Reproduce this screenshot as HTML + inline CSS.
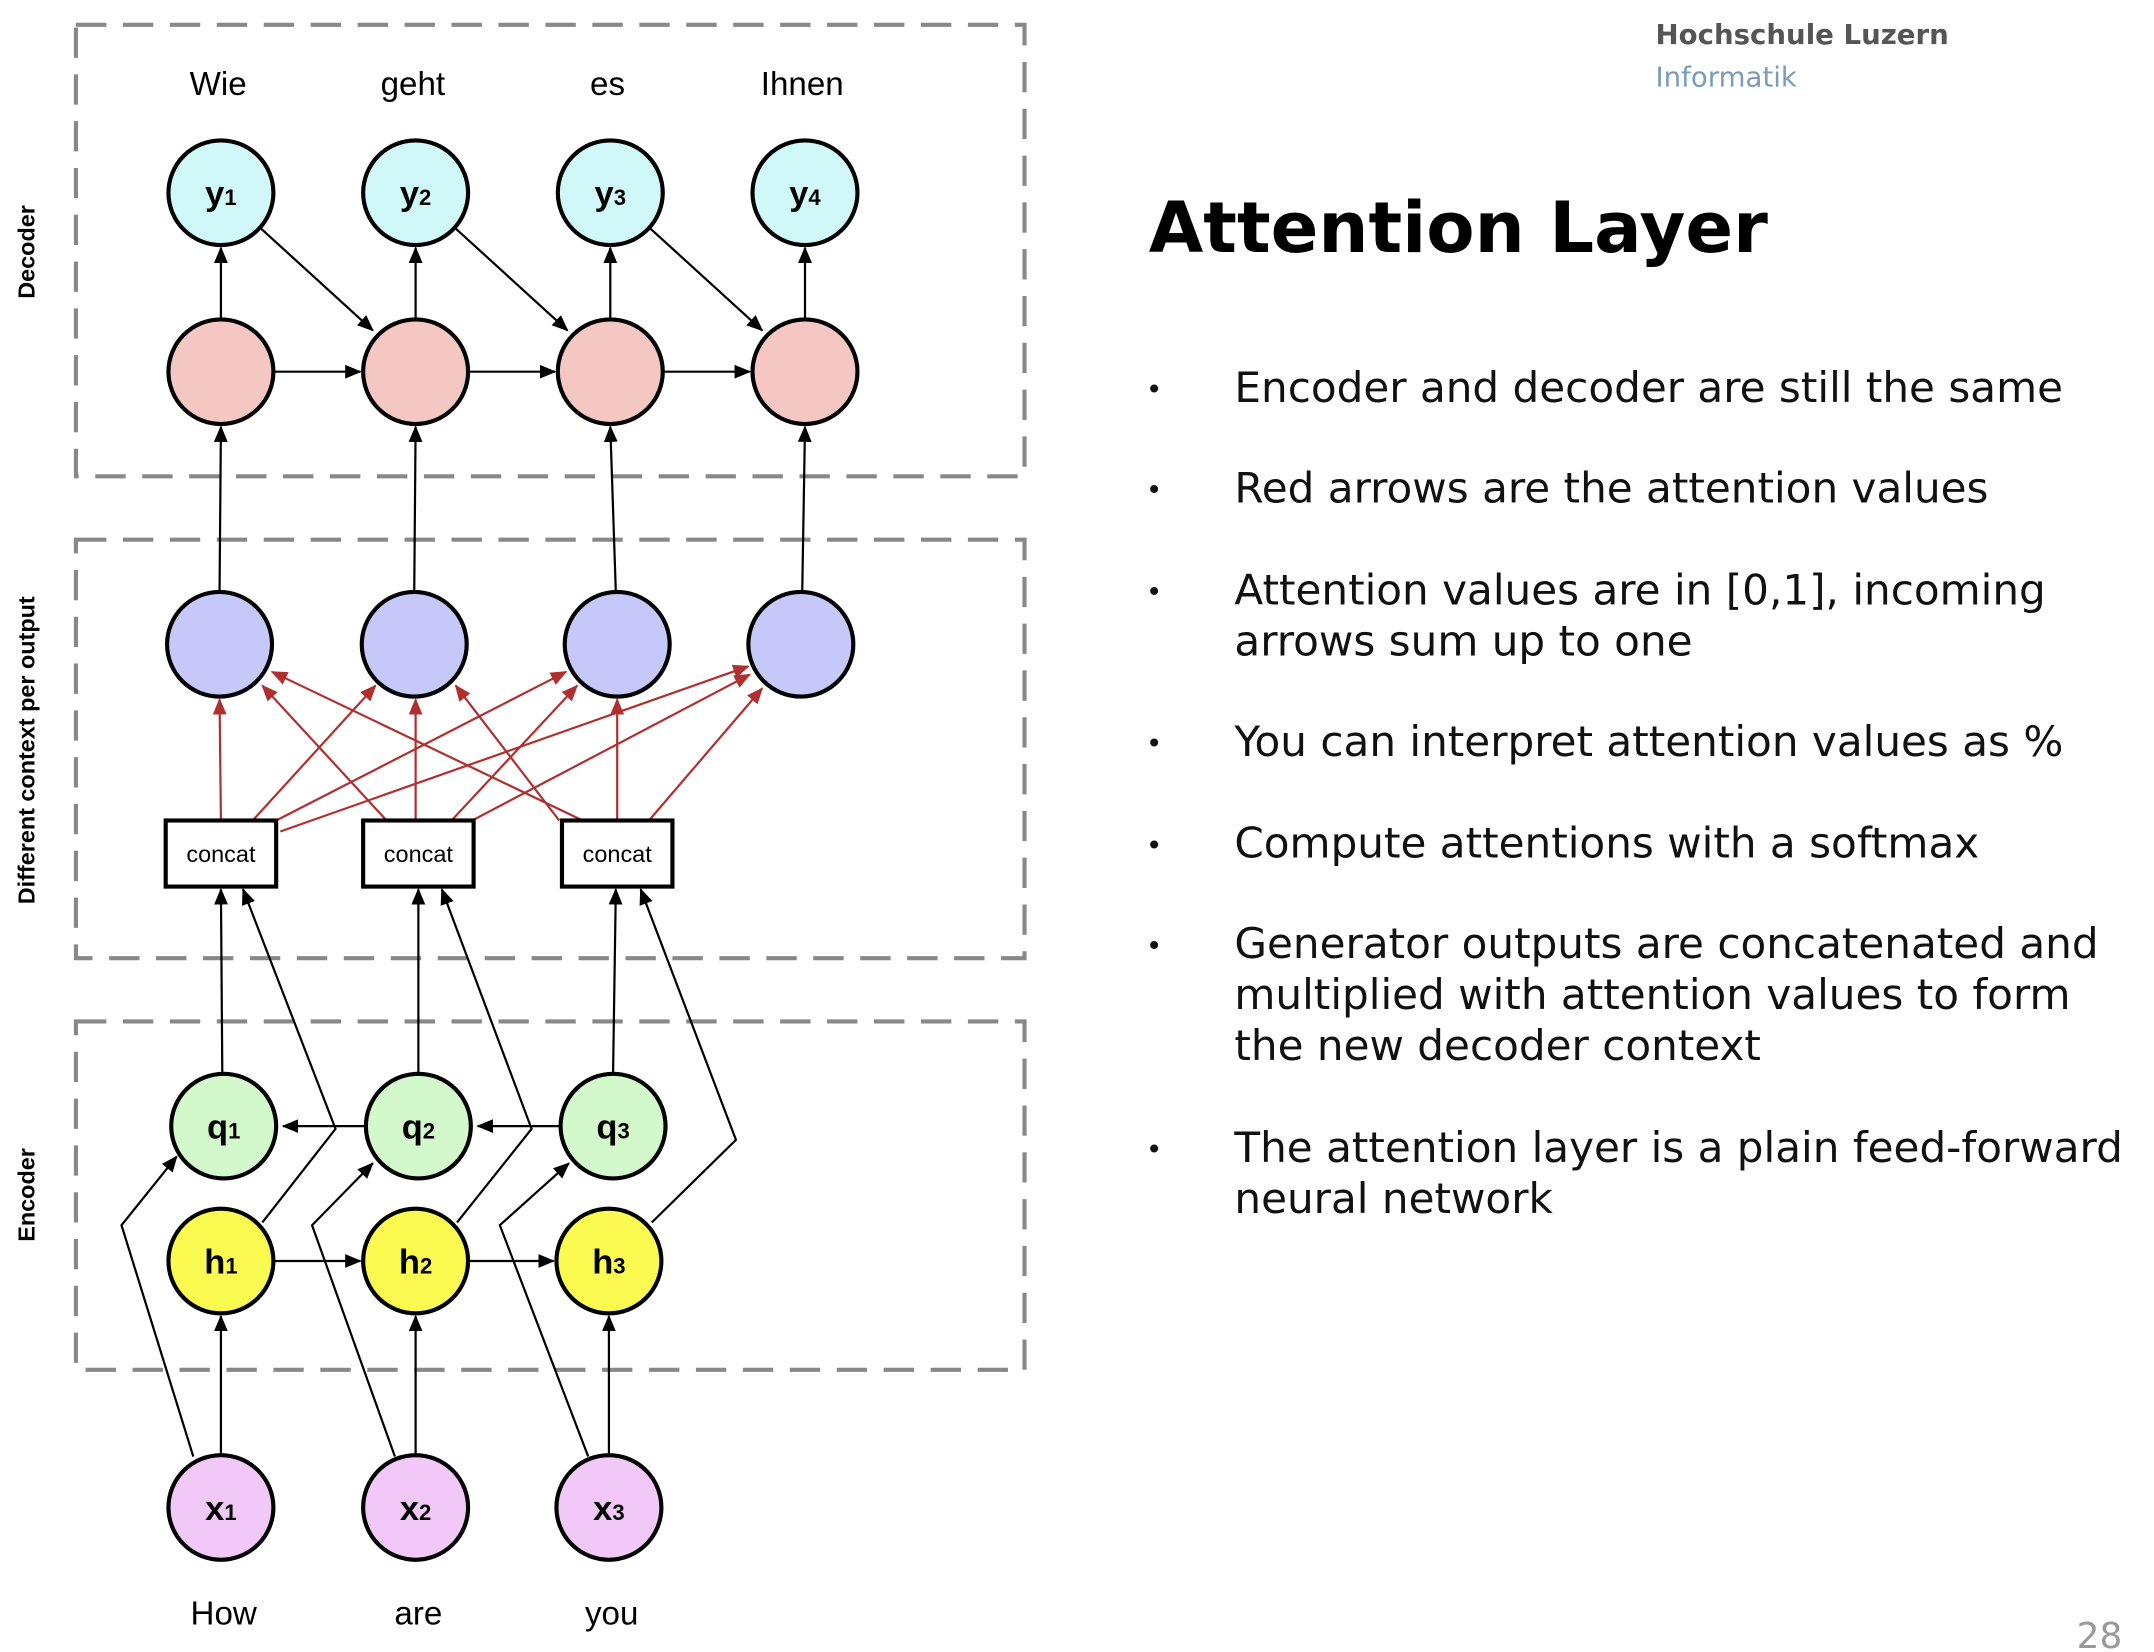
<!DOCTYPE html>
<html><head><meta charset="utf-8"><style>
html,body{margin:0;padding:0;background:#fff;}
svg{display:block;}
</style></head><body>
<svg width="2154" height="1652" viewBox="0 0 1560 1200" preserveAspectRatio="none" xmlns="http://www.w3.org/2000/svg">
<defs>
<marker id="ab" markerWidth="12" markerHeight="10" refX="11" refY="5" orient="auto" markerUnits="userSpaceOnUse"><path d="M0,0 L12,5 L0,10 z" fill="#000"/></marker>
<marker id="ar" markerWidth="12" markerHeight="10" refX="11" refY="5" orient="auto" markerUnits="userSpaceOnUse"><path d="M0,0 L12,5 L0,10 z" fill="#b03030"/></marker>
</defs>
<rect width="1560" height="1200" fill="#fff"/>
<g fill="none" stroke="#888" stroke-width="3" stroke-dasharray="22,12">
<rect x="55" y="18" width="687" height="328"/>
<rect x="55" y="392" width="687" height="304"/>
<rect x="55" y="742" width="687" height="253"/>
</g>
<g font-family="Liberation Sans,sans-serif" font-weight="bold" font-size="17" fill="#000">
<text transform="translate(25,183) rotate(-90)" text-anchor="middle">Decoder</text>
<text transform="translate(25,545) rotate(-90)" text-anchor="middle">Different context per output</text>
<text transform="translate(25,868) rotate(-90)" text-anchor="middle">Encoder</text>
</g>
<g font-family="Liberation Sans,sans-serif" font-size="24" text-anchor="middle">
<text x="158" y="69">Wie</text><text x="299" y="69">geht</text><text x="440" y="69">es</text><text x="581" y="69">Ihnen</text>
<text x="162" y="1180">How</text><text x="303" y="1180">are</text><text x="443" y="1180">you</text>
</g>
<g stroke="#000" stroke-width="1.6" fill="none" marker-end="url(#ab)">
<line x1="160" y1="232" x2="160" y2="180"/><line x1="301" y1="232" x2="301" y2="180"/><line x1="442" y1="232" x2="442" y2="180"/><line x1="583" y1="232" x2="583" y2="180"/>
<line x1="189" y1="166" x2="270" y2="240"/><line x1="330" y1="166" x2="411" y2="240"/><line x1="471" y1="166" x2="552" y2="240"/>
<line x1="198" y1="270" x2="261" y2="270"/><line x1="339" y1="270" x2="402" y2="270"/><line x1="480" y1="270" x2="543" y2="270"/>
<line x1="159" y1="430" x2="160" y2="310"/><line x1="300" y1="430" x2="301" y2="310"/><line x1="446" y1="430" x2="442" y2="310"/><line x1="581" y1="430" x2="583" y2="310"/>
<line x1="161" y1="780" x2="160" y2="646"/><line x1="303" y1="780" x2="303" y2="646"/><line x1="444" y1="780" x2="446" y2="646"/>
<polyline points="190,888 243,820 176,646"/><polyline points="331,888 385,820 320,646"/><polyline points="472,888 533,828 464,646"/>
<polyline points="140,1058 88,890 128,840"/><polyline points="286,1058 226,890 270,845"/><polyline points="426,1058 362,890 412,845"/>
<line x1="265" y1="818" x2="205" y2="818"/><line x1="406" y1="818" x2="346" y2="818"/>
<line x1="198" y1="916" x2="261" y2="916"/><line x1="339" y1="916" x2="401" y2="916"/>
<line x1="160" y1="1057" x2="160" y2="956"/><line x1="301" y1="1057" x2="301" y2="956"/><line x1="441" y1="1057" x2="441" y2="956"/>
</g>
<g stroke="#b03030" stroke-width="1.6" fill="none" marker-end="url(#ar)">
<line x1="160" y1="596" x2="159" y2="508"/><line x1="183" y1="596" x2="272" y2="498"/><line x1="200" y1="596" x2="410" y2="488"/><line x1="203" y1="604" x2="542" y2="484"/>
<line x1="280" y1="596" x2="190" y2="498"/><line x1="301" y1="596" x2="301" y2="508"/><line x1="327" y1="596" x2="418" y2="498"/><line x1="342" y1="596" x2="543" y2="490"/>
<line x1="422" y1="596" x2="197" y2="488"/><line x1="405" y1="596" x2="330" y2="498"/><line x1="447" y1="596" x2="447" y2="508"/><line x1="470" y1="596" x2="552" y2="500"/>
</g>
<g stroke="#000" stroke-width="3">
<g fill="#d0f8f8"><circle cx="160" cy="140" r="38"/><circle cx="301" cy="140" r="38"/><circle cx="442" cy="140" r="38"/><circle cx="583" cy="140" r="38"/></g>
<g fill="#f4c7c3"><circle cx="160" cy="270" r="38"/><circle cx="301" cy="270" r="38"/><circle cx="442" cy="270" r="38"/><circle cx="583" cy="270" r="38"/></g>
<g fill="#c5c8f8"><circle cx="159" cy="468" r="38"/><circle cx="300" cy="468" r="38"/><circle cx="447" cy="468" r="38"/><circle cx="580" cy="468" r="38"/></g>
<g fill="#fff"><rect x="120" y="596" width="80" height="48"/><rect x="263" y="596" width="80" height="48"/><rect x="407" y="596" width="80" height="48"/></g>
<g fill="#d2f8cc"><circle cx="162" cy="818" r="38"/><circle cx="303" cy="818" r="38"/><circle cx="444" cy="818" r="38"/></g>
<g fill="#fbfa50"><circle cx="160" cy="916" r="38"/><circle cx="301" cy="916" r="38"/><circle cx="441" cy="916" r="38"/></g>
<g fill="#f2c8f8"><circle cx="160" cy="1095" r="38"/><circle cx="301" cy="1095" r="38"/><circle cx="441" cy="1095" r="38"/></g>
</g>
<g font-family="Liberation Sans,sans-serif" font-size="17" text-anchor="middle">
<text x="160" y="626">concat</text><text x="303" y="626">concat</text><text x="447" y="626">concat</text>
</g>
<g font-family="Liberation Sans,sans-serif" font-weight="bold" font-size="25" text-anchor="middle">
<text x="160" y="149">y<tspan font-size="16">1</tspan></text><text x="301" y="149">y<tspan font-size="16">2</tspan></text><text x="442" y="149">y<tspan font-size="16">3</tspan></text><text x="583" y="149">y<tspan font-size="16">4</tspan></text>
<text x="162" y="827">q<tspan font-size="16">1</tspan></text><text x="303" y="827">q<tspan font-size="16">2</tspan></text><text x="444" y="827">q<tspan font-size="16">3</tspan></text>
<text x="160" y="925">h<tspan font-size="16">1</tspan></text><text x="301" y="925">h<tspan font-size="16">2</tspan></text><text x="441" y="925">h<tspan font-size="16">3</tspan></text>
<text x="160" y="1104">x<tspan font-size="16">1</tspan></text><text x="301" y="1104">x<tspan font-size="16">2</tspan></text><text x="441" y="1104">x<tspan font-size="16">3</tspan></text>
</g>
<g font-family="DejaVu Sans,sans-serif">
<text x="1199" y="32" font-size="20" font-weight="bold" fill="#555">Hochschule Luzern</text>
<text x="1199" y="63" font-size="20" fill="#7a9cb8">Informatik</text>
<text x="832" y="183" font-size="51" font-weight="bold" fill="#000">Attention Layer</text>
<g font-size="30.5" fill="#111">
<text x="830" y="290" font-size="20">•</text><text x="894" y="292">Encoder and decoder are still the same</text>
<text x="830" y="363" font-size="20">•</text><text x="894" y="365">Red arrows are the attention values</text>
<text x="830" y="437" font-size="20">•</text><text x="894" y="439">Attention values are in [0,1], incoming</text><text x="894" y="476">arrows sum up to one</text>
<text x="830" y="547" font-size="20">•</text><text x="894" y="549">You can interpret attention values as %</text>
<text x="830" y="621" font-size="20">•</text><text x="894" y="623">Compute attentions with a softmax</text>
<text x="830" y="694" font-size="20">•</text><text x="894" y="696">Generator outputs are concatenated and</text><text x="894" y="733">multiplied with attention values to form</text><text x="894" y="770">the new decoder context</text>
<text x="830" y="842" font-size="20">•</text><text x="894" y="844">The attention layer is a plain feed-forward</text><text x="894" y="881">neural network</text>
</g>
<text x="1504" y="1197" font-size="26" fill="#999">28</text>
</g>
</svg>
</body></html>
